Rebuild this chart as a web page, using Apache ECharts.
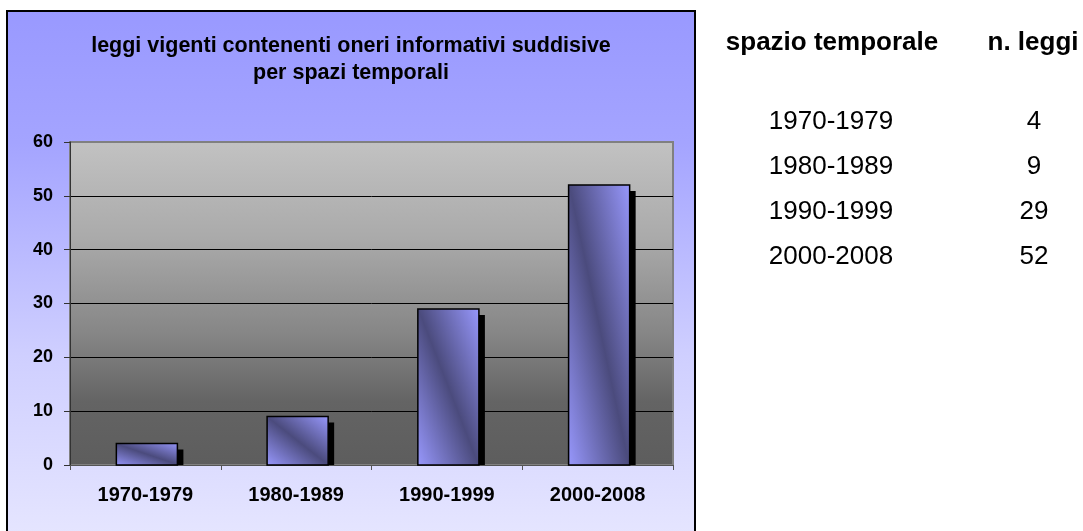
<!DOCTYPE html>
<html><head><meta charset="utf-8">
<script src="https://cdn.jsdelivr.net/npm/echarts@6/dist/echarts.min.js"></script>
<style>html,body{margin:0;padding:0;background:#fff;}#c{width:1083px;height:531px;}</style>
</head><body><div id="c"></div>
<script>
const categories = ['1970-1979', '1980-1989', '1990-1999', '2000-2008'];
const values = [4, 9, 29, 52];
const titleLines = ['leggi vigenti contenenti oneri informativi suddisive', 'per spazi temporali'];
const tableHeaders = ['spazio temporale', 'n. leggi'];
const yMin = 0, yMax = 60, yInterval = 10;

const FONT = '"Liberation Sans", Arial, sans-serif';
const chart = echarts.init(document.getElementById('c'), null, {renderer: 'canvas'});

function txt(text, x, y, size, bold, align) {
  return {
    type: 'text', x: x, y: y, silent: true, z: 10,
    style: {
      text: text, fill: '#000',
      font: (bold ? 'bold ' : '') + size + 'px ' + FONT,
      textAlign: align || 'center', textVerticalAlign: 'middle',
      align: align || 'center', verticalAlign: 'middle'
    }
  };
}

const graphics = [
  {
    type: 'rect', silent: true, z: -100,
    shape: {x: 7, y: 11, width: 688, height: 530},
    style: {
      fill: new echarts.graphic.LinearGradient(0, 0, 0, 1, [
        {offset: 0, color: '#9999ff'},
        {offset: 0.25, color: '#a4a4ff'},
        {offset: 0.65, color: '#cfcfff'},
        {offset: 1, color: '#e6e6ff'}
      ]),
      stroke: '#000', lineWidth: 2
    }
  },
  txt(titleLines[0], 351, 46, 21.5, true),
  txt(titleLines[1], 351, 73, 21.5, true),
  txt(tableHeaders[0], 832, 43, 26, true),
  txt(tableHeaders[1], 1033, 43, 26, true)
];
const rowY = [122, 167, 212, 257];
categories.forEach(function (c, i) {
  graphics.push(txt(c, 831, rowY[i], 26, false));
  graphics.push(txt(String(values[i]), 1034, rowY[i], 26, false));
});

const splitColors = [];
for (let v = yMin; v <= yMax; v += yInterval) splitColors.push(v === yMax ? '#808080' : '#000');

chart.setOption({
  animation: false,
  graphic: graphics,
  grid: {
    left: 70, right: 1083 - 673, top: 142, bottom: 531 - 465,
    show: true, borderColor: '#808080', borderWidth: 2,
    backgroundColor: new echarts.graphic.LinearGradient(0, 0, 0, 1, [
      {offset: 0, color: '#c2c2c2'},
      {offset: 0.3, color: '#aaaaaa'},
      {offset: 0.6, color: '#858585'},
      {offset: 0.8, color: '#646464'},
      {offset: 1, color: '#5d5d5d'}
    ])
  },
  xAxis: {
    type: 'category', data: categories, boundaryGap: true,
    axisLine: {show: true, lineStyle: {color: '#555', width: 1}},
    axisTick: {show: true, length: 5, lineStyle: {color: '#555'}},
    axisLabel: {color: '#000', fontWeight: 'bold', fontSize: 20, fontFamily: FONT, margin: 20}
  },
  yAxis: {
    type: 'value', min: yMin, max: yMax, interval: yInterval,
    axisLine: {show: true, lineStyle: {color: '#333', width: 1}},
    axisTick: {show: true, length: 6, lineStyle: {color: '#333'}},
    splitLine: {show: true, lineStyle: {color: splitColors, width: 1}},
    axisLabel: {color: '#000', fontWeight: 'bold', fontSize: 18, fontFamily: FONT, margin: 17}
  },
  series: [{
    type: 'custom',
    data: values.map(function (v, i) { return [i, v]; }),
    encode: {x: 0, y: 1},
    renderItem: function (params, api) {
      const idx = api.value(0);
      const top = api.coord([idx, api.value(1)]);
      const base = api.coord([idx, 0]);
      const band = api.size([1, 0])[0];
      const w = band * 0.405;
      const x = top[0] - w / 2 + 1.5;
      const h = base[1] - top[1];
      const L2 = w * w + h * h;
      const a = h * h / L2, b = w * w / L2;
      const grad = new echarts.graphic.LinearGradient(0.5 - a, 0.5 + b, 0.5 + a, 0.5 - b, [
        {offset: 0, color: '#9999ff'},
        {offset: 0.5, color: '#4b4b7d'},
        {offset: 1, color: '#9999ff'}
      ]);
      return {
        type: 'group',
        children: [
          {type: 'rect', shape: {x: x + 6, y: top[1] + 6, width: w, height: Math.max(0, h - 6)}, style: {fill: '#000'}},
          {type: 'rect', shape: {x: x, y: top[1], width: w, height: h}, style: {fill: grad, stroke: '#000', lineWidth: 1.5}}
        ]
      };
    }
  }]
});
</script></body></html>
